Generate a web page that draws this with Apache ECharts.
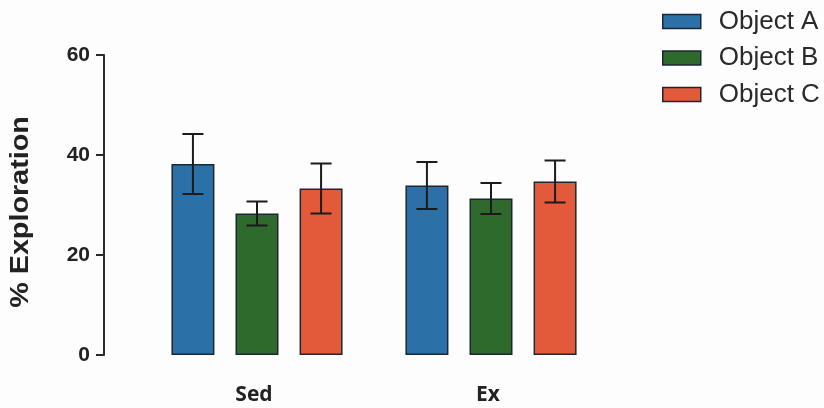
<!DOCTYPE html>
<html>
<head>
<meta charset="utf-8">
<script src="https://cdn.jsdelivr.net/npm/echarts@6/dist/echarts.min.js"></script>
<style>
  html, body { margin: 0; padding: 0; background: #fdfdfd; }
  #chart { width: 824px; height: 408px; }
</style>
</head>
<body>
<div id="chart"></div>
<script>
// Groups along the x axis
const groups = ['Sed', 'Ex'];
// Object names (legend)
const objects = ['Object A', 'Object B', 'Object C'];
// Mean % exploration per object, one value per group
const meanA = [38.2, 33.9];
const meanB = [28.3, 31.3];
const meanC = [33.3, 34.7];
// Standard error of the mean, per object and group
const semA = [6.0, 4.7];
const semB = [2.4, 3.1];
const semC = [5.0, 4.2];
// Y axis ticks and title
const yTicks = [0, 20, 40, 60];
const yTitle = '% Exploration';

const means = [meanA, meanB, meanC];
const sems = [semA, semB, semC];
const colors = ['#2b70a7', '#2e6a2c', '#e35a3b'];
const outline = '#1d2733';

const BAR_W = 43;
const BAR_GAP = 0.49; // fraction of bar width between neighbouring bars
const CAP_W = 21;

const chart = echarts.init(document.getElementById('chart'));

function errorSeries(k) {
  const data = groups.map((g, i) => [i, means[k][i] - sems[k][i], means[k][i] + sems[k][i]]);
  return {
    type: 'custom',
    name: objects[k] + ' SEM',
    z: 10,
    silent: true,
    encode: { x: 0, y: [1, 2] },
    data: data,
    renderItem: function (params, api) {
      const step = BAR_W * (1 + BAR_GAP);
      const dx = (k - 1) * step;
      const lo = api.coord([api.value(0), api.value(1)]);
      const hi = api.coord([api.value(0), api.value(2)]);
      const x = lo[0] + dx;
      const style = { stroke: '#1b1b1b', lineWidth: 2 };
      return {
        type: 'group',
        children: [
          { type: 'line', shape: { x1: x, y1: lo[1], x2: x, y2: hi[1] }, style: style },
          { type: 'line', shape: { x1: x - CAP_W / 2, y1: hi[1], x2: x + CAP_W / 2, y2: hi[1] }, style: style },
          { type: 'line', shape: { x1: x - CAP_W / 2, y1: lo[1], x2: x + CAP_W / 2, y2: lo[1] }, style: style }
        ]
      };
    }
  };
}

const barSeries = objects.map((name, k) => ({
  type: 'bar',
  name: name,
  data: means[k],
  barWidth: BAR_W,
  barGap: (BAR_GAP * 100) + '%',
  itemStyle: { color: colors[k], borderColor: outline, borderWidth: 1.5 }
}));

chart.setOption({
  animation: false,
  backgroundColor: '#fdfdfd',
  grid: { left: 140, right: 216, top: 55, bottom: 53, containLabel: false },
  legend: {
    data: objects,
    orient: 'vertical',
    left: 662,
    top: 8.5,
    padding: 0,
    itemWidth: 38,
    itemHeight: 14,
    itemGap: 10.5,
    icon: 'rect',
    itemStyle: { borderColor: outline, borderWidth: 1.5 },
    textStyle: {
      fontFamily: 'Liberation Sans', fontSize: 26, lineHeight: 26,
      color: '#2a2a2a', padding: [0, 0, 0, 13]
    }
  },
  // vertical axis title, drawn slightly elongated along its reading direction
  graphic: [{
    type: 'text',
    x: 21,
    y: 212,
    rotation: Math.PI / 2,
    scaleX: 1.15,
    style: {
      text: yTitle,
      fontFamily: 'Liberation Sans',
      fontWeight: 'bold',
      fontSize: 25,
      fill: '#222',
      align: 'center',
      verticalAlign: 'middle'
    }
  }],
  xAxis: {
    type: 'category',
    data: groups,
    axisLine: { show: false },
    axisTick: { show: false },
    axisLabel: {
      margin: 30,
      padding: [0, 6, 0, 0],
      fontFamily: 'Open Sans',
      fontWeight: 'bold',
      fontSize: 21,
      color: '#222'
    }
  },
  yAxis: {
    type: 'value',
    min: yTicks[0],
    max: yTicks[yTicks.length - 1],
    interval: yTicks[1] - yTicks[0],
    offset: 36,
    splitLine: { show: false },
    axisLine: { show: true, lineStyle: { color: '#2a2a2a', width: 2 } },
    axisTick: { show: true, inside: false, length: 8, lineStyle: { color: '#2a2a2a', width: 2 } },
    axisLabel: {
      margin: 14,
      fontFamily: 'Liberation Sans',
      fontWeight: 'bold',
      fontSize: 21,
      color: '#222'
    }
  },
  series: barSeries.concat(objects.map((n, k) => errorSeries(k)))
});
</script>
</body>
</html>
